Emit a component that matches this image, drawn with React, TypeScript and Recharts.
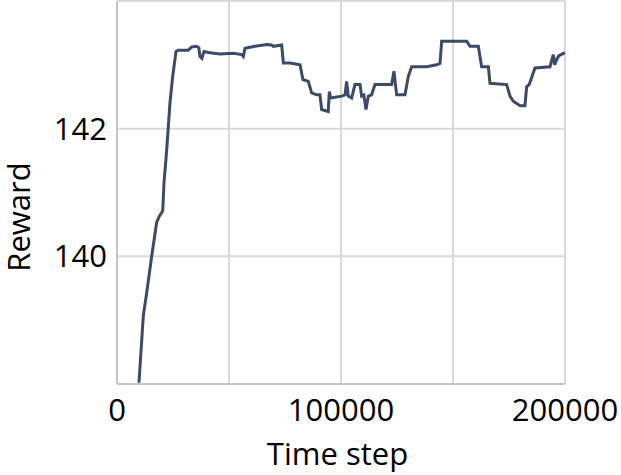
import React from 'react';
import { LineChart, Line, XAxis, YAxis, CartesianGrid } from 'recharts';

const timeSteps = [
  9800, 11750, 13250, 15480, 17700, 18900, 20400, 21000, 22200, 23660, 24860, 26340, 27400,
  31830, 33340, 35580, 36500, 37050, 37900, 38840, 41500, 45980, 51900, 55660, 56400, 57140,
  61600, 66830, 69000, 69780, 73520, 74270, 77230, 81700, 83000, 85400, 86900, 89150, 90600,
  91370, 94300, 94780, 95400, 100300, 101800, 102500, 103250, 104750, 106240, 108500, 109200,
  110200, 111150, 112200, 113650, 115170, 122600, 123650, 124300, 124850, 128560, 130060,
  131550, 138250, 142700, 144200, 144940, 156100, 157600, 161300, 162800, 165800, 166500,
  173950, 175440, 176930, 180000, 182100, 182900, 184000, 186600, 193300, 194780, 195400,
  196250, 197200, 199250, 200000,
];

const rewards = [
  138.02, 139.07, 139.43, 140.0, 140.53, 140.63, 140.71, 141.16, 141.67, 142.41, 142.82, 143.21, 143.23,
  143.23, 143.28, 143.29, 143.27, 143.13, 143.1, 143.21, 143.19, 143.17, 143.18, 143.16, 143.13, 143.26,
  143.29, 143.32, 143.31, 143.29, 143.31, 143.03, 143.03, 143.0, 142.77, 142.74, 142.56, 142.53, 142.53,
  142.3, 142.27, 142.58, 142.48, 142.51, 142.53, 142.74, 142.51, 142.48, 142.69, 142.69, 142.51,
  142.53, 142.3, 142.51, 142.53, 142.69, 142.69, 142.9, 142.69, 142.53, 142.53, 142.82,
  142.97, 142.97, 143.0, 143.02, 143.37, 143.37, 143.29, 143.29, 142.97, 142.97, 142.71,
  142.69, 142.51, 142.43, 142.36, 142.36, 142.66, 142.69, 142.95, 142.97, 143.16, 143.0,
  143.08, 143.14, 143.18, 143.18,
];

const xTicks = [0, 50000, 100000, 150000, 200000];
const xTickLabels = ['0', '', '100000', '', '200000'];
const yTicks = [138, 140, 142, 144];
const yTickLabels = ['', '140', '142', ''];

const data = timeSteps.map((t, i) => ({ t, r: rewards[i] }));

const FONT = '"Open Sans", sans-serif';

const YLabel = () => (
  <text
    x={30}
    y={217}
    transform="rotate(-90, 30, 217)"
    textAnchor="middle"
    fontFamily={FONT}
    fontSize={31}
    fill="#000"
  >
    Reward
  </text>
);

const XLabel = () => (
  <text x={337.5} y={465} textAnchor="middle" fontFamily={FONT} fontSize={31} fill="#000">
    Time step
  </text>
);

export default function App() {
  return (
    <div style={{ position: 'absolute', left: 0, top: 0, width: 621, height: 475, background: '#fff' }}>
      <LineChart width={621} height={475} data={data} margin={{ top: 1, right: 56, bottom: 0, left: 0 }}>
        <CartesianGrid stroke="#d9d9d9" strokeWidth={2} horizontal vertical />
        <XAxis
          dataKey="t"
          type="number"
          domain={[0, 200000]}
          ticks={xTicks}
          tickFormatter={(v: number) => xTickLabels[xTicks.indexOf(v)] ?? ''}
          tickLine={false}
          tickSize={0}
          tickMargin={15}
          height={91}
          stroke="#c4c4c4"
          strokeWidth={2}
          tick={{ fill: '#000', fontSize: 31, fontFamily: FONT }}
          interval={0}
          label={<XLabel />}
        />
        <YAxis
          type="number"
          domain={[138, 144]}
          ticks={yTicks}
          tickFormatter={(v: number) => yTickLabels[yTicks.indexOf(v)] ?? ''}
          tickLine={false}
          tickSize={0}
          tickMargin={10}
          width={117}
          stroke="#c4c4c4"
          strokeWidth={2}
          tick={{ fill: '#000', fontSize: 31, fontFamily: FONT }}
          interval={0}
          allowDataOverflow
          label={<YLabel />}
        />
        <Line
          dataKey="r"
          type="linear"
          stroke="#3b4a66"
          strokeWidth={3}
          dot={false}
          isAnimationActive={false}
        />
      </LineChart>
    </div>
  );
}
